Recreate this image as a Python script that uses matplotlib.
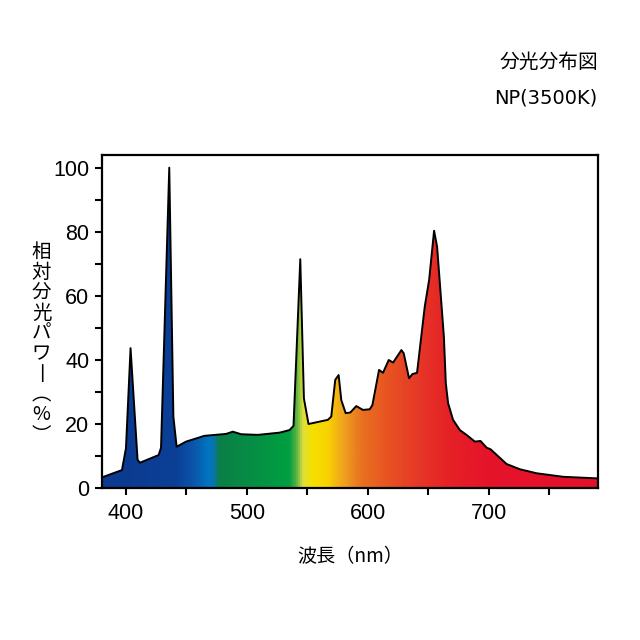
import numpy as np
import matplotlib.pyplot as plt
from matplotlib.colors import LinearSegmentedColormap
from matplotlib.patches import Polygon

plt.rcParams['font.family'] = ['Liberation Sans', 'Noto Sans CJK JP', 'DejaVu Sans']
JP = ['Noto Sans CJK JP', 'DejaVu Sans']

# spectrum (nm, relative power %)
wavelength = [380, 396.7, 400, 403.8, 409.6, 411.6, 427, 429, 435.8, 439.2, 441.9,
              449.7, 464.8, 482.8, 488.3, 495.2, 509, 527, 535.2, 538.5, 544.1,
              547.1, 550.9, 566.9, 569.7, 573, 575.8, 578, 581.6, 585.5, 590.4,
              595.9, 601.5, 603.7, 609.2, 612.5, 617.2, 620.8, 627.7, 629.6, 634,
              636.8, 640.6, 647, 650.6, 654.7, 657.2, 662.8, 664.4, 666.3, 670.4,
              676, 681.5, 688.4, 693.1, 698.1, 701.4, 714.6, 725.7, 739.5, 761.5, 790]
power = [3.2, 5.5, 12.3, 43.6, 8.7, 7.8, 10.2, 12.5, 100, 22.2, 12.8,
         14.4, 16.2, 16.8, 17.5, 16.7, 16.5, 17.2, 18.0, 19.3, 71.4,
         27.9, 19.9, 21.2, 22.2, 33.7, 35.2, 27.4, 23.3, 23.5, 25.5,
         24.3, 24.5, 25.8, 36.8, 35.9, 39.9, 39.1, 43.0, 42.0, 34.2,
         35.5, 35.9, 56.6, 64.9, 80.3, 75.3, 47.2, 32.6, 26.4, 21.2,
         18.0, 16.5, 14.4, 14.6, 12.5, 12.0, 7.4, 5.75, 4.5, 3.4, 2.9]

# colour stops of the spectrum fill
stop_nm = [380, 440, 455, 468, 472, 476, 500, 535, 540, 546, 553, 566, 580, 595, 615, 640, 665, 700, 790]
stop_col = ['#0b3a8f', '#0b3f96', '#0a55aa', '#0077c2', '#0a72a8', '#0b7f47', '#078c45',
            '#00a040', '#50b040', '#dce040', '#f5e000', '#f8d400', '#f0a020', '#e87020',
            '#e85522', '#e63a28', '#e52226', '#e5142a', '#e5102a']

xmin, xmax = 380, 790
ymin, ymax = 0, 104

fig = plt.figure(figsize=(6.4, 6.4), dpi=100)
ax = fig.add_axes([0.159, 0.238, 0.775, 0.52])

pos = [(v - xmin) / (xmax - xmin) for v in stop_nm]
cmap = LinearSegmentedColormap.from_list('spec', list(zip(pos, stop_col)))
grad = np.linspace(0, 1, 800).reshape(1, -1)
img = ax.imshow(grad, cmap=cmap, aspect='auto', extent=(xmin, xmax, ymin, ymax),
                origin='lower', zorder=1)

verts = [(xmin, 0)] + list(zip(wavelength, power)) + [(xmax, 0)]
poly = Polygon(verts, closed=True, facecolor='none', edgecolor='none')
ax.add_patch(poly)
img.set_clip_path(poly)

ax.plot(wavelength, power, color='black', lw=1.4, zorder=3)

ax.set_xlim(xmin, xmax)
ax.set_ylim(ymin, ymax)
ax.set_xticks([400, 500, 600, 700])
ax.set_xticks([450, 550, 650, 750], minor=True)
ax.set_yticks([0, 20, 40, 60, 80, 100])
ax.set_yticks([10, 30, 50, 70, 90], minor=True)
ax.tick_params(which='both', direction='out', length=5, width=1.5, labelsize=15.5)
ax.tick_params(axis='x', pad=6)
ax.tick_params(axis='y', pad=4)
for s in ax.spines.values():
    s.set_linewidth(1.6)

fig.text(0.934, 0.903, '分光分布図', ha='right', va='center', fontsize=14.2, family=JP)
fig.text(0.934, 0.847, 'NP(3500K)', ha='right', va='center', fontsize=14,
         family=['DejaVu Sans'])
fig.text(0.547, 0.13, '波長（nm）', ha='center', va='center', fontsize=13.8, family=JP)
fig.text(0.065, 0.463, '相\n対\n分\n光\nパ\nワ\n丨\n︵\n%\n︶', ha='center', va='center',
         fontsize=14, family=JP, linespacing=0.96)

fig.savefig('out.png', dpi=100)
